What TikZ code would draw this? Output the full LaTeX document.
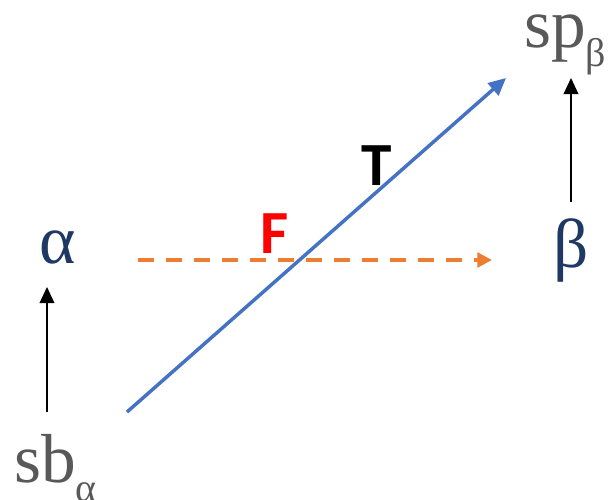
\documentclass[tikz,border=0pt]{standalone}
\usepackage{fontspec}
\setmainfont{Liberation Serif}
\newfontfamily\calib{Carlito}
\usetikzlibrary{arrows.meta}
\definecolor{navy}{HTML}{1F3864}
\definecolor{grayt}{HTML}{595959}
\definecolor{blueline}{HTML}{4472C4}
\definecolor{orangeline}{HTML}{ED7D31}
\begin{document}
\begin{tikzpicture}[x=0.75pt,y=-0.75pt,
  greek/.style={text=navy,font=\fontsize{52}{52}\selectfont,inner sep=0pt},
  gtext/.style={text=grayt,font=\fontsize{52}{52}\selectfont,inner sep=0pt},
  lbl/.style={font=\calib\bfseries\fontsize{46}{46}\selectfont,inner sep=0pt},
  thin/.style={draw=black,line width=1pt,-{Triangle[length=12pt,width=11pt]}},
  blu/.style={draw=blueline,line width=2.6pt,-{Triangle[length=13pt,width=12pt]}},
  org/.style={draw=orangeline,line width=2.6pt,dash pattern=on 12pt off 9pt,-{Triangle[length=11pt,width=11pt]}}]
\useasboundingbox (0,0) rectangle (611,500);
\node[greek] (alpha) at (58,247) {α};
\node[greek] (beta) at (571,250) {β};
\node[gtext,anchor=base west] (sb) at (14,482) {sb\raisebox{-0.28em}{\fontsize{30}{30}\selectfont α}};
\node[gtext,anchor=base west] (sp) at (524,47) {sp\raisebox{-0.28em}{\fontsize{30}{30}\selectfont β}};
\node[lbl,text=red] (F) at (275,234) {F};
\node[lbl,text=black] (T) at (377,166) {T};
\coordinate (a0) at (47,412);
\coordinate (a1) at (47,287);
\coordinate (b0) at (571,202);
\coordinate (b1) at (571,78);
\coordinate (c0) at (127,412);
\coordinate (c1) at (506,78);
\coordinate (d0) at (138,260);
\coordinate (d1) at (492,260);
\draw[thin] (a0) -- (a1);
\draw[thin] (b0) -- (b1);
\draw[blu] (c0) -- (c1);
\draw[org] (d0) -- (d1);
\end{tikzpicture}
\end{document}
